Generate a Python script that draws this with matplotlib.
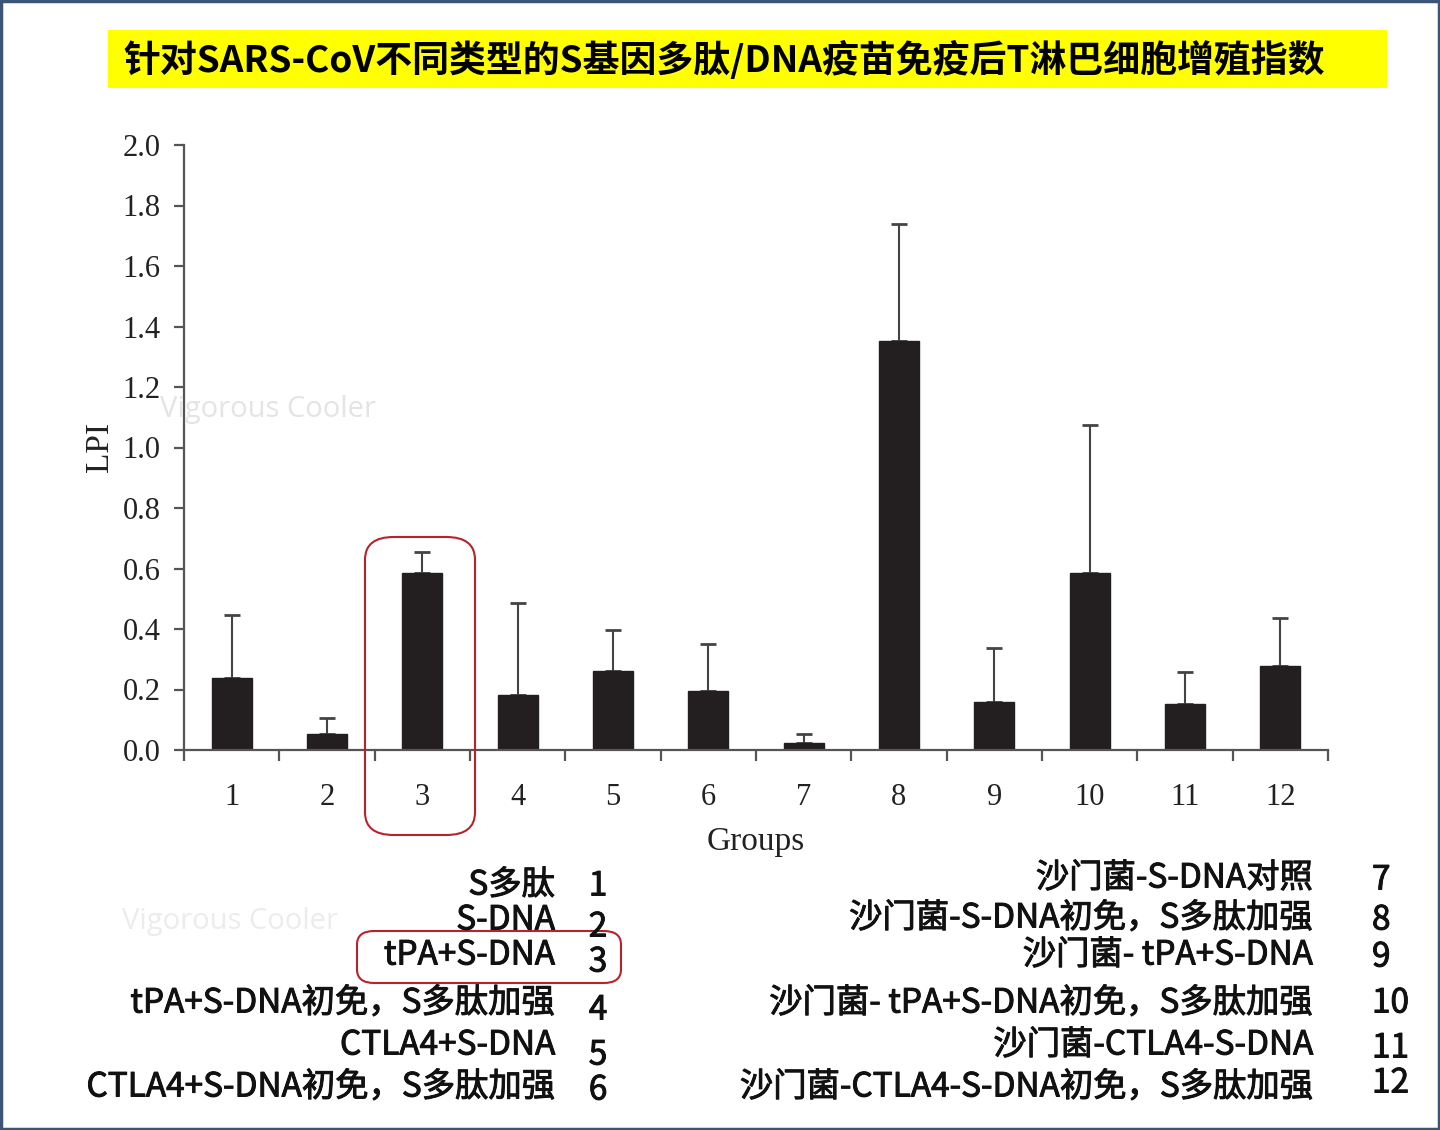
import matplotlib.pyplot as plt
import matplotlib.patheffects as pe
from matplotlib.patches import FancyBboxPatch, Rectangle

plt.rcParams['font.family'] = ['Noto Sans CJK SC', 'DejaVu Sans']

# data
groups = [1, 2, 3, 4, 5, 6, 7, 8, 9, 10, 11, 12]
lpi_mean = [0.238, 0.053, 0.585, 0.182, 0.261, 0.195, 0.023, 1.352, 0.159, 0.585, 0.152, 0.278]
lpi_upper = [0.446, 0.106, 0.655, 0.486, 0.397, 0.350, 0.053, 1.739, 0.337, 1.074, 0.258, 0.436]
y_ticks = [0.0, 0.2, 0.4, 0.6, 0.8, 1.0, 1.2, 1.4, 1.6, 1.8, 2.0]

title = "针对SARS-CoV不同类型的S基因多肽/DNA疫苗免疫后T淋巴细胞增殖指数"
left_names = ["S多肽", "S-DNA", "tPA+S-DNA", "tPA+S-DNA初免，S多肽加强",
              "CTLA4+S-DNA", "CTLA4+S-DNA初免，S多肽加强"]
right_names = ["沙门菌-S-DNA对照", "沙门菌-S-DNA初免，S多肽加强", "沙门菌- tPA+S-DNA",
               "沙门菌- tPA+S-DNA初免，S多肽加强", "沙门菌-CTLA4-S-DNA",
               "沙门菌-CTLA4-S-DNA初免，S多肽加强"]

W, H = 1440, 1130
fig = plt.figure(figsize=(W / 100, H / 100), dpi=100)

def fx(px):
    return px / W

def fy(py):
    return 1 - py / H

# frame around the slide
fig.patches.append(Rectangle((0.001, 0.001), 0.998, 0.998, transform=fig.transFigure,
                             fill=False, edgecolor='#3b5478', linewidth=2.5))

# title on yellow band
fig.patches.append(Rectangle((fx(108), fy(88)), fx(1387) - fx(108), fy(30) - fy(88),
                             transform=fig.transFigure, facecolor='#ffff00', edgecolor='none'))
fig.text(fx(724), fy(60), title, ha='center', va='center', fontsize=26.6,
         fontweight='heavy', color='black')

# main axes
ax = fig.add_axes([fx(184), fy(750), fx(1328) - fx(184), fy(145) - fy(750)])
err = [u - m for u, m in zip(lpi_upper, lpi_mean)]
ax.bar(groups, lpi_mean, width=0.42, color='#231f20', edgecolor='#231f20', zorder=2)
ax.errorbar(groups, lpi_mean, yerr=[[0] * len(err), err], fmt='none',
            ecolor='#444444', elinewidth=1.5, capsize=6, capthick=2, zorder=1)

ax.set_xlim(0.5, 12.5)
ax.set_ylim(0, 2.0)
for s in ['top', 'right']:
    ax.spines[s].set_visible(False)
for s in ['left', 'bottom']:
    ax.spines[s].set_color('#555555')
    ax.spines[s].set_linewidth(1.6)

serif = 'Liberation Serif'
ax.set_yticks(y_ticks)
ax.set_yticklabels([f"{v:.1f}" for v in y_ticks], fontfamily=serif, fontsize=22, color='#222222')
ax.tick_params(axis='y', direction='out', length=7, width=1.6, color='#555555', pad=10)

ax.set_xticks(groups)
ax.set_xticklabels([str(g) for g in groups], fontfamily=serif, fontsize=22, color='#222222')
ax.set_xticks([g + 0.5 for g in [0] + groups], minor=True)
ax.tick_params(axis='x', which='major', length=0, pad=24)
ax.tick_params(axis='x', which='minor', direction='out', length=8, width=1.6, color='#555555')

ax.set_xlabel("Groups", fontfamily=serif, fontsize=24, color='#222222', labelpad=10)
ax.set_ylabel("LPI", fontfamily=serif, fontsize=24, color='#222222', labelpad=5)

# watermarks
fig.text(fx(160), fy(410), "Vigorous Cooler", fontsize=21, color='#e4e4e4', va='center',
         fontfamily='Open Sans')
fig.text(fx(122), fy(922), "Vigorous Cooler", fontsize=21, color='#ececec', va='center',
         fontfamily='Open Sans')

# highlight boxes
red = '#b8232b'
fig.patches.append(FancyBboxPatch((fx(365), fy(835)), fx(475) - fx(365), fy(537) - fy(835),
                                  boxstyle='round,pad=0,rounding_size=0.02',
                                  transform=fig.transFigure, fill=False,
                                  edgecolor=red, linewidth=1.5))
fig.patches.append(FancyBboxPatch((fx(357), fy(983)), fx(621) - fx(357), fy(931) - fy(983),
                                  boxstyle='round,pad=0,rounding_size=0.012',
                                  transform=fig.transFigure, fill=False,
                                  edgecolor=red, linewidth=1.5))

# group legend (slight stroke to mimic the heavier slide font)
thick = [pe.withStroke(linewidth=0.7, foreground='#111111')]
left_text_y = [885, 920, 955, 1003, 1045, 1087]
left_num_y = [886, 927, 962, 1010, 1055, 1090]
right_text_y = [878, 918, 955, 1003, 1045, 1087]
right_num_y = [880, 920, 957, 1003, 1048, 1083]
for i, name in enumerate(left_names):
    fig.text(fx(555), fy(left_text_y[i]), name, ha='right', va='center', fontsize=24,
             color='#111111', path_effects=thick)
    fig.text(fx(598), fy(left_num_y[i]), str(groups[i]), ha='center', va='center',
             fontsize=24, color='#111111', path_effects=thick)
for i, name in enumerate(right_names):
    fig.text(fx(1313), fy(right_text_y[i]), name, ha='right', va='center', fontsize=24,
             color='#111111', path_effects=thick)
    fig.text(fx(1372), fy(right_num_y[i]), str(groups[i + 6]), ha='left', va='center',
             fontsize=24, color='#111111', path_effects=thick)

fig.savefig("out.png", dpi=100)
